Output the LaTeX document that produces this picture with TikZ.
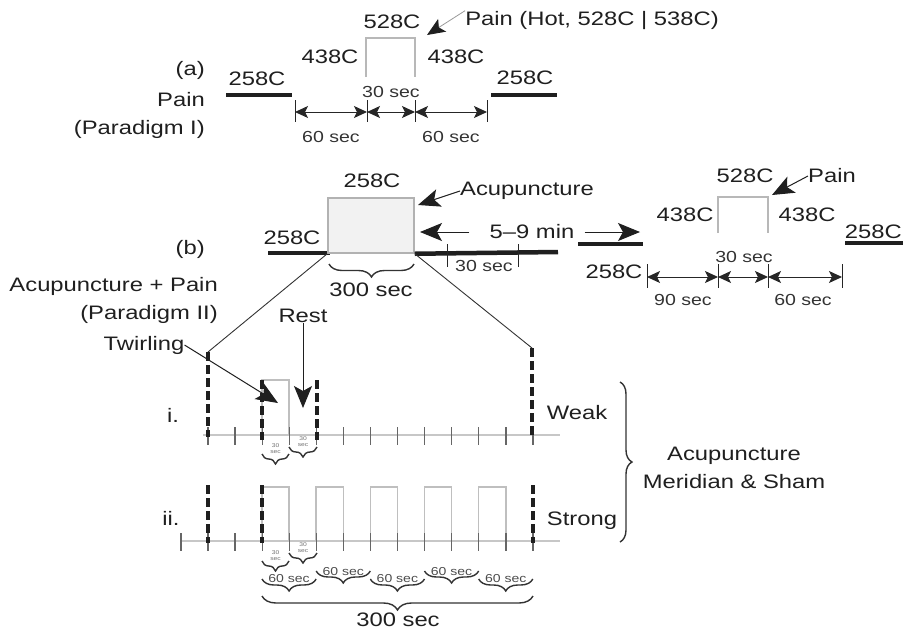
\documentclass[tikz,border=0pt]{standalone}
\usepackage{fontspec}
\setmainfont[FakeStretch=1.22]{Liberation Sans}
\usetikzlibrary{arrows.meta,decorations.pathreplacing}
\begin{document}
\begin{tikzpicture}[x=1pt,y=-1pt,
  lbl/.style={font=\fontsize{19.5}{22}\selectfont, text=black!88, inner sep=0pt},
  sml/.style={font=\fontsize{16}{18}\selectfont, text=black!80, inner sep=0pt},
  tinylbl/.style={font=\fontsize{5.5}{6}\selectfont, text=black!55, inner sep=0pt, align=center},
  mini/.style={font=\fontsize{11.5}{13}\selectfont, text=black!70, inner sep=0pt},
  tl/.style={line width=4.5pt, black!88},
  pulse/.style={draw=black!28, line width=2pt},
  dimarrow/.style={{Stealth[length=13pt,width=12pt,inset=3pt]}-{Stealth[length=13pt,width=12pt,inset=3pt]}, line width=1pt, black!85},
  tk/.style={line width=1pt, black!85},
  tkg/.style={line width=1.2pt, black!60},
  callout/.style={-{Stealth[length=22pt,width=18pt,inset=5pt]}, line width=1pt, black!88},
  dsh/.style={line width=4.5pt, black!88, dash pattern=on 9pt off 4pt},
  baseln/.style={line width=2.5pt, black!22},
  stk/.style={line width=0.9pt, black!80},
  br/.style={decorate, decoration={brace, amplitude=#1}, line width=1.4pt, black!80},
]
\useasboundingbox (0,0) rectangle (903,630);

% ================= (a) =================
\node[lbl, anchor=east] (la1) at (205,70) {(a)};
\node[lbl, anchor=east] (la2) at (205,100) {Pain};
\node[lbl, anchor=east] (la3) at (205,129) {(Paradigm I)};

\draw[tl] (226,95) -- (292,95);
\node[lbl] (a258l) at (257,79) {258C};
\draw[tl] (491,95) -- (557,95);
\node[lbl] (a258r) at (525,78) {258C};

\coordinate (ta1) at (295,112);
\coordinate (ta2) at (367,112);
\coordinate (ta3) at (415,112);
\coordinate (ta4) at (487,112);
\foreach \c in {ta1,ta2,ta3,ta4} \draw[tk] ([yshift=12pt]\c) -- ([yshift=-10pt]\c);
\draw[dimarrow] (ta1) -- (ta2);
\draw[dimarrow] (ta2) -- (ta3);
\draw[dimarrow] (ta3) -- (ta4);
\node[sml] (a60l) at (331,137) {60 sec};
\node[sml] (a30) at (391,92) {30 sec};
\node[sml] (a60r) at (451,137) {60 sec};

\coordinate (pa1) at (366,77);
\coordinate (pa2) at (415,77);
\draw[pulse] (pa1) -- (366,38) -- (415,38) -- (pa2);
\node[lbl] (a528) at (392,22) {528C};
\node[lbl] (a438l) at (330,57) {438C};
\node[lbl] (a438r) at (456,57) {438C};
\node[lbl] (painA) at (592,20) {Pain (Hot, 528C | 538C)};
\coordinate (painAtip) at (427,35);
\draw[-{Stealth[length=18pt,width=15pt,inset=4pt,color=black!88]}, line width=0.8pt, black!40] (painA.north west) -- (painAtip);

% ================= (b) =================
\node[lbl, anchor=east] (lb1) at (205,249) {(b)};
\node[lbl, anchor=east] (lb2) at (218,286) {Acupuncture + Pain};
\node[lbl, anchor=east] (lb3) at (218,314) {(Paradigm II)};

\draw[tl] (268,253) -- (330,253);
\node[lbl] (b258l) at (292,238) {258C};
\node[draw=black!30, fill=black!5, line width=1.5pt, minimum width=86pt, minimum height=55pt, inner sep=0pt] (box) at (371,225.5) {};
\node[lbl] (b258t) at (372,181) {258C};
\draw[tl] (box.south east) -- (558,252);
\draw[tk] (447,244) -- (447,267);
\draw[tk] (518,244) -- (518,267);
\node[sml] (b30a) at (484,266) {30 sec};

\draw[br=13pt] (414,264) -- (329,264);
\node[lbl] (b300) at (371,290) {300 sec};

\node[lbl, anchor=west] (acu) at (460,191) {Acupuncture};
\coordinate (acutip) at (418,205);
\draw[callout] (acu.west) -- (acutip);

\node[lbl] (nine) at (532,232) {5--9 min};
\coordinate (tipL) at (420,232);
\coordinate (tipR) at (640,232);
\draw[callout] ([xshift=-20pt]nine.west) -- (tipL);
\draw[callout] ([xshift=10pt]nine.east) -- (tipR);

\draw[tl] (578,244) -- (643,244);
\node[lbl] (b258m) at (614,272) {258C};
\coordinate (tb1) at (647,277);
\coordinate (tb2) at (718,277);
\coordinate (tb3) at (768,277);
\coordinate (tb4) at (842,277);
\foreach \c in {tb1,tb2,tb3,tb4} \draw[tk] ([yshift=13pt]\c) -- ([yshift=-11pt]\c);
\draw[dimarrow] (tb1) -- (tb2);
\draw[dimarrow] (tb2) -- (tb3);
\draw[dimarrow] (tb3) -- (tb4);
\node[sml] (b90) at (683,300) {90 sec};
\node[sml] (b30b) at (744,257) {30 sec};
\node[sml] (b60) at (803,300) {60 sec};

\coordinate (pb1) at (718,233);
\coordinate (pb2) at (768,233);
\draw[pulse] (pb1) -- (718,197) -- (768,197) -- (pb2);
\node[lbl] (b528) at (745,176) {528C};
\node[lbl] (b438l) at (685,215) {438C};
\node[lbl] (b438r) at (807,215) {438C};
\node[lbl] (painB) at (832,176) {Pain};
\coordinate (painBtip) at (772,195);
\draw[callout] (painB.west) -- (painBtip);

\draw[tl] (845,243) -- (910,243);
\node[lbl, anchor=east] (b258r) at (902,232) {258C};

% expansion lines
\coordinate (dL) at (208,352);
\coordinate (dR) at (532,348);
\draw[stk] (box.south west) -- (dL);
\draw[stk] (box.south east) -- (dR);

% ================= row i =================
\node[lbl] (ri) at (173,415) {i.};
\draw[baseln] (203,435) -- (560,435);
\draw[draw=black!25, line width=1.5pt] (262,435) -- (262,380) -- (289,380) -- (289,435);
\foreach \k in {0,...,12} \draw[tkg] ({208+27.083*\k},427) -- ({208+27.083*\k},445);
\draw[dsh] (dL) -- (208,437);
\draw[dsh] (dR) -- (532,437);
\draw[dsh] (262,380) -- (262,440);
\draw[dsh] (317,380) -- (317,440);

\node[lbl] (twirl) at (144,345) {Twirling};
\coordinate (twtip) at (278,403);
\draw[callout] (twirl.east) -- (twtip);
\node[lbl] (rest) at (303,316) {Rest};
\coordinate (resttip) at (303,408);
\draw[callout] (rest.south) -- (resttip);

\draw[br=10pt] (289,454) -- (262,454);
\node[tinylbl] (i30a) at (275.5,449) {30\\sec};
\draw[br=10pt] (317,447) -- (289,447);
\node[tinylbl] (i30b) at (303,442) {30\\sec};

\node[lbl] (weak) at (577,413) {Weak};

% ================= row ii =================
\node[lbl] (rii) at (171,518) {ii.};
\draw[baseln] (180,541) -- (560,541);
\foreach \x in {262,316.17,370.33,424.5,478.67}
  \draw[draw=black!25, line width=1.5pt] (\x,541) -- (\x,487) -- ({\x+27.08},487) -- ({\x+27.08},541);
\foreach \k in {0,...,13} \draw[tkg] ({180.92+27.083*\k},533) -- ({180.92+27.083*\k},551);
\draw[dsh] (208,485) -- (208,543);
\draw[dsh] (262,485) -- (262,543);
\draw[dsh] (533,485) -- (533,543);

\draw[br=10pt] (289,561) -- (262,561);
\node[tinylbl] (ii30a) at (275.5,556) {30\\sec};
\draw[br=10pt] (317,553) -- (289,553);
\node[tinylbl] (ii30b) at (303,548) {30\\sec};

\draw[br=12pt] (316.17,579) -- (262,579);
\node[mini] (s1) at (289,579) {60 sec};
\draw[br=12pt] (370.33,571) -- (316.17,571);
\node[mini] (s2) at (343.25,572) {60 sec};
\draw[br=12pt] (424.5,579) -- (370.33,579);
\node[mini] (s3) at (397.4,579) {60 sec};
\draw[br=12pt] (478.67,571) -- (424.5,571);
\node[mini] (s4) at (451.6,572) {60 sec};
\draw[br=12pt] (532.83,579) -- (478.67,579);
\node[mini] (s5) at (505.75,579) {60 sec};

\draw[br=14pt] (533,596) -- (262,596);
\node[lbl] (ii300) at (398,620) {300 sec};

\node[lbl] (strong) at (582,521) {Strong};

% big brace
\draw[br=12pt] (620,382) -- (620,542);
\node[font=\fontsize{19.5}{28}\selectfont, text=black!88, inner sep=0pt, align=center] (acums) at (734,468) {Acupuncture\\Meridian \& Sham};

\end{tikzpicture}
\end{document}
